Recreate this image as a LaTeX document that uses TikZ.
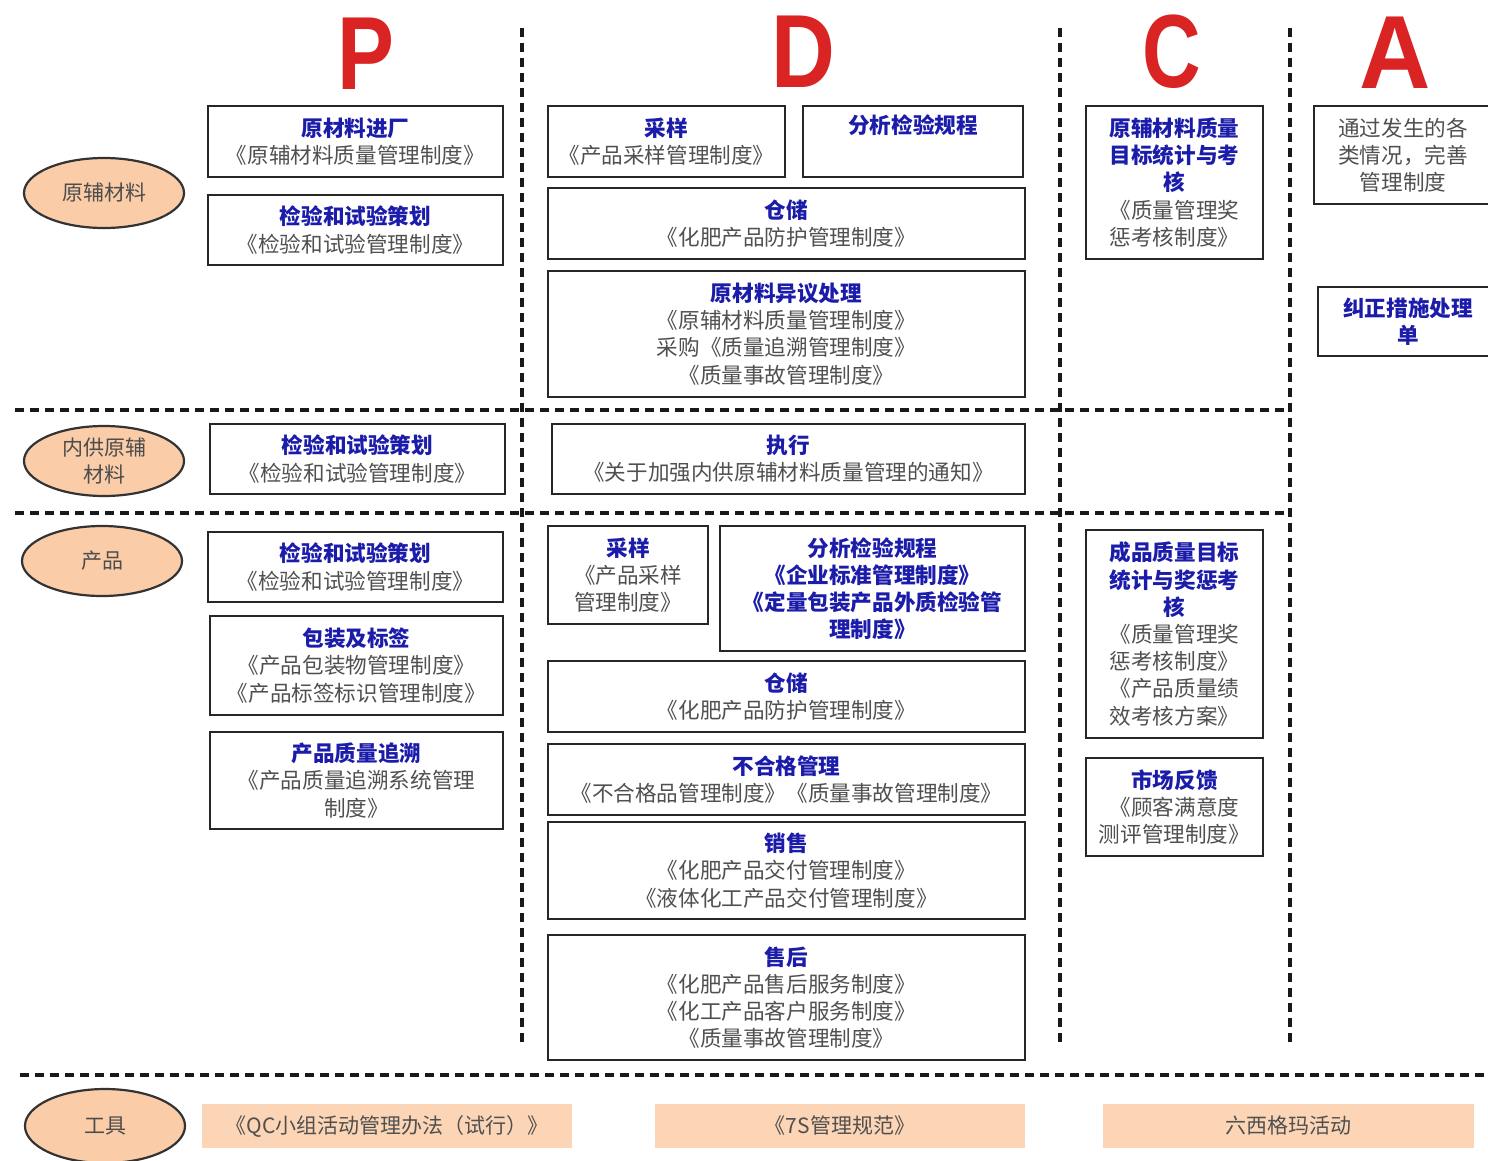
\documentclass[tikz,border=0pt]{standalone}
\usepackage{fontspec}
\usepackage{graphicx}
\setmainfont{Noto Sans CJK SC}
\newfontfamily\letterfont{Liberation Sans}
\usetikzlibrary{shapes.geometric}
\definecolor{titleblue}{RGB}{28,28,170}
\definecolor{bodygray}{RGB}{80,80,80}
\definecolor{peach}{RGB}{250,205,168}
\definecolor{peachlight}{RGB}{251,213,181}
\definecolor{pdcared}{RGB}{218,36,36}
\newcommand\mytitle[1]{\textcolor{titleblue}{\bfseries #1}}
\newcommand\bx[6]{\node[boxst, minimum width={(#4-#2)*0.5pt}, minimum height={(#5-#3)*0.5pt}] (#1) at ({(#2+#4)/2},{(#3+#5)/2}) {#6};}
\newcommand\tl[6]{\node[toolbox, minimum width={(#4-#2)*0.5pt}, minimum height={(#5-#3)*0.5pt}] (#1) at ({(#2+#4)/2},{(#3+#5)/2}) {#6};}
\tikzset{
  boxst/.style={draw=black!85, line width=0.8pt, fill=white, align=center, inner sep=1pt,
    font=\fontsize{10.8}{13.6}\selectfont, text=bodygray},
  ell/.style={ellipse, draw=black!80, line width=1.1pt, fill=peach, minimum width=80pt,
    minimum height=35pt, align=center, inner sep=0pt, font=\fontsize{10.5}{13.5}\selectfont, text=black!70},
  divider/.style={dash pattern=on 4.5pt off 3pt, line width=1.7pt, draw=black!90},
  toolbox/.style={fill=peachlight, text=bodygray, inner sep=0pt, font=\fontsize{10.5}{13.5}\selectfont},
  letter/.style={font=\letterfont\bfseries\fontsize{52}{52}\selectfont, text=pdcared, anchor=base, inner sep=0pt}
}
\begin{document}
\begin{tikzpicture}[x=0.5pt,y=-0.5pt]
\useasboundingbox (0,0) rectangle (1488,1161);
\clip (0,0) rectangle (1488,1161);
\fill[white] (0,0) rectangle (1488,1161);

% PDCA letters
\node[letter] (P) at (366,90) {\scalebox{0.82}[1]{P}};
\node[letter] (D) at (803,88) {\scalebox{0.85}[1]{D}};
\node[letter] (C) at (1172,88) {\scalebox{0.78}[1]{C}};
\node[letter] (A) at (1395,89) {\scalebox{0.95}[1]{A}};

% dividers
\coordinate (v1t) at (522,28); \coordinate (v1b) at (522,1046);
\coordinate (v2t) at (1060,28); \coordinate (v2b) at (1060,1048);
\coordinate (v3t) at (1290,28); \coordinate (v3b) at (1290,1048);
\coordinate (h1l) at (15,410); \coordinate (h1r) at (1290,410);
\coordinate (h2l) at (15,513); \coordinate (h2r) at (1290,513);
\coordinate (h3l) at (20,1075); \coordinate (h3r) at (1488,1075);
\draw[divider] (v1t) -- (v1b);
\draw[divider] (v2t) -- (v2b);
\draw[divider] (v3t) -- (v3b);
\draw[divider] (h1l) -- (h1r);
\draw[divider] (h2l) -- (h2r);
\draw[divider] (h3l) -- (h3r);

% row labels
\node[ell] (e1) at (104,193) {原辅材料};
\node[ell] (e2) at (104,461) {内供原辅\\材料};
\node[ell] (e3) at (102,561) {产品};
\node[ell, minimum height=37pt] (e4) at (105,1126) {工具};

% P column
\bx{p1}{208}{106}{503}{177}{\mytitle{原材料进厂}\\《原辅材料质量管理制度》}
\bx{p2}{208}{195}{503}{265}{\mytitle{检验和试验策划}\\《检验和试验管理制度》}
\bx{p3}{210}{424}{505}{494}{\mytitle{检验和试验策划}\\《检验和试验管理制度》}
\bx{p4}{208}{532}{503}{602}{\mytitle{检验和试验策划}\\《检验和试验管理制度》}
\bx{p5}{210}{616}{503}{715}{\mytitle{包装及标签}\\《产品包装物管理制度》\\《产品标签标识管理制度》}
\bx{p6}{210}{732}{503}{829}{\mytitle{产品质量追溯}\\《产品质量追溯系统管理\\制度》}

% D column
\bx{d1}{548}{106}{785}{177}{\mytitle{采样}\\《产品采样管理制度》}
\bx{d2}{803}{106}{1023}{177}{\mytitle{分析检验规程}\\\strut}
\bx{d3}{548}{188}{1025}{259}{\mytitle{仓储}\\《化肥产品防护管理制度》}
\bx{d4}{548}{271}{1025}{397}{\mytitle{原材料异议处理}\\《原辅材料质量管理制度》\\采购《质量追溯管理制度》\\《质量事故管理制度》}
\bx{d5}{552}{424}{1025}{494}{\mytitle{执行}\\《关于加强内供原辅材料质量管理的通知》}
\bx{d6}{548}{526}{708}{624}{\mytitle{采样}\\《产品采样\\管理制度》}
\bx{d7}{720}{526}{1025}{651}{\mytitle{分析检验规程}\\\mytitle{《企业标准管理制度》}\\\mytitle{《定量包装产品外质检验管}\\\mytitle{理制度》}}
\bx{d8}{548}{661}{1025}{732}{\mytitle{仓储}\\《化肥产品防护管理制度》}
\bx{d9}{548}{744}{1025}{815}{\mytitle{不合格管理}\\《不合格品管理制度》《质量事故管理制度》}
\bx{d10}{548}{822}{1025}{919}{\mytitle{销售}\\《化肥产品交付管理制度》\\《液体化工产品交付管理制度》}
\bx{d11}{548}{935}{1025}{1060}{\mytitle{售后}\\《化肥产品售后服务制度》\\《化工产品客户服务制度》\\《质量事故管理制度》}

% C column
\bx{c1}{1086}{106}{1263}{259}{\mytitle{原辅材料质量}\\\mytitle{目标统计与考}\\\mytitle{核}\\《质量管理奖\\惩考核制度》}
\bx{c2}{1086}{530}{1263}{738}{\mytitle{成品质量目标}\\\mytitle{统计与奖惩考}\\\mytitle{核}\\《质量管理奖\\惩考核制度》\\《产品质量绩\\效考核方案》}
\bx{c3}{1086}{758}{1263}{856}{\mytitle{市场反馈}\\《顾客满意度\\测评管理制度》}

% A column
\bx{a1}{1314}{106}{1492}{204}{通过发生的各\\类情况，完善\\管理制度}
\bx{a2}{1318}{287}{1498}{356}{\mytitle{纠正措施处理}\\\mytitle{单}}

% tools
\tl{t1}{202}{1104}{572}{1148}{《QC小组活动管理办法（试行）》}
\tl{t2}{655}{1104}{1025}{1148}{《7S管理规范》}
\tl{t3}{1103}{1104}{1474}{1148}{六西格玛活动}
\end{tikzpicture}
\end{document}
